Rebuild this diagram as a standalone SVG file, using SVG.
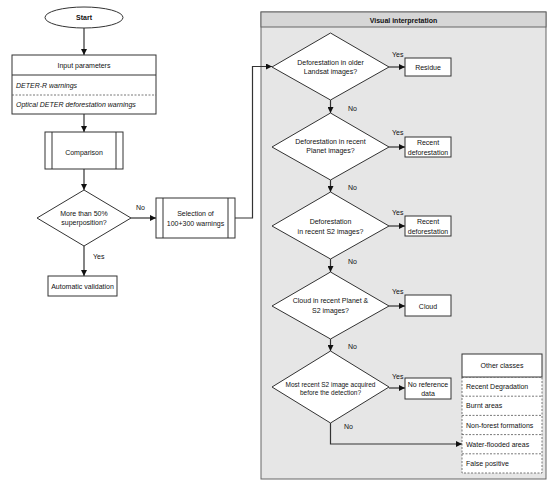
<svg xmlns="http://www.w3.org/2000/svg" width="550" height="485" viewBox="0 0 550 485">
<defs>
<marker id="ah" viewBox="0 0 10 10" refX="10" refY="5" markerWidth="6" markerHeight="6" markerUnits="userSpaceOnUse" orient="auto">
<path d="M0,0 L10,5 L0,10 z" fill="#111"/>
</marker>
<style>
text{font-family:"Liberation Sans",Arial,sans-serif;font-size:7px;fill:#111}
.c{text-anchor:middle}
.b{font-weight:bold}
.i{font-style:italic}
.s{font-size:6.5px}
.shape{fill:#fff;stroke:#333;stroke-width:1}
.ln{fill:none;stroke:#333;stroke-width:1}
.dash{fill:none;stroke:#555;stroke-width:0.8;stroke-dasharray:2,1.5}
.con{fill:none;stroke:#333;stroke-width:1.2;marker-end:url(#ah)}
.con0{fill:none;stroke:#333;stroke-width:1.2}
</style>
</defs>
<rect width="550" height="485" fill="#fff"/>

<g id="panel">
<rect x="261" y="12" width="285" height="467" fill="#e6e6e6" stroke="#666" stroke-width="1"/>
<rect x="261" y="12" width="285" height="15" fill="#d6d6d6" stroke="#666" stroke-width="1"/>
<text x="403.5" y="22.5" class="c b">Visual interpretation</text>
</g>

<g id="connectors">
<line x1="84" y1="28" x2="84" y2="55" class="con"/>
<line x1="84" y1="114" x2="84" y2="132" class="con"/>
<line x1="84" y1="169" x2="84" y2="190" class="con"/>
<line x1="131" y1="218" x2="156" y2="218" class="con"/>
<line x1="84" y1="246" x2="84" y2="276" class="con"/>
<polyline points="235,218 252.5,218 252.5,66.5 272,66.5" class="con"/>
<line x1="389" y1="67" x2="405" y2="67" class="con"/>
<line x1="330.5" y1="100" x2="330.5" y2="113" class="con"/>
<line x1="389" y1="147" x2="405" y2="147" class="con"/>
<line x1="330.5" y1="180" x2="330.5" y2="192" class="con"/>
<line x1="389" y1="226" x2="405" y2="226" class="con"/>
<line x1="330.5" y1="259" x2="330.5" y2="272" class="con"/>
<line x1="389" y1="306" x2="405" y2="306" class="con"/>
<line x1="330.5" y1="339" x2="330.5" y2="351" class="con"/>
<line x1="389" y1="388" x2="405" y2="388" class="con"/>
<polyline points="330.5,423 330.5,444 462,444" class="con"/>
<text x="136" y="210">No</text>
<text x="93" y="259">Yes</text>
<text x="392" y="57">Yes</text>
<text x="348" y="111">No</text>
<text x="392" y="135">Yes</text>
<text x="348" y="190">No</text>
<text x="392" y="215">Yes</text>
<text x="348" y="264">No</text>
<text x="392" y="294">Yes</text>
<text x="348" y="349">No</text>
<text x="392" y="379">Yes</text>
<text x="344" y="429">No</text>
</g>

<g id="start">
<ellipse cx="84" cy="17.5" rx="39" ry="10.5" class="shape"/>
<text x="84" y="20" class="c b">Start</text>
</g>

<g id="input">
<rect x="12" y="55" width="144" height="59" class="shape"/>
<line x1="12" y1="75" x2="156" y2="75" class="ln"/>
<line x1="12" y1="95" x2="156" y2="95" class="dash"/>
<text x="84" y="67.5" class="c">Input parameters</text>
<text x="16" y="87.5" class="i">DETER-R warnings</text>
<text x="16" y="107" class="i">Optical DETER deforestation warnings</text>
</g>

<g id="comparison">
<rect x="45" y="132" width="78" height="37" class="shape"/>
<line x1="52" y1="132" x2="52" y2="169" class="ln"/>
<line x1="116" y1="132" x2="116" y2="169" class="ln"/>
<text x="84" y="155" class="c">Comparison</text>
</g>

<g id="superposition">
<polygon points="84,190 131,218 84,246 37,218" class="shape"/>
<text x="84" y="215.5" class="c">More than 50%</text>
<text x="84" y="224.5" class="c">superposition?</text>
</g>

<g id="selection">
<rect x="156" y="198" width="79" height="40" class="shape"/>
<line x1="163" y1="198" x2="163" y2="238" class="ln"/>
<line x1="228" y1="198" x2="228" y2="238" class="ln"/>
<text x="195.5" y="216" class="c">Selection of</text>
<text x="195.5" y="226" class="c">100+300 warnings</text>
</g>

<g id="automatic">
<rect x="48" y="276" width="69" height="20" class="shape"/>
<text x="82.5" y="288.5" class="c">Automatic validation</text>
</g>

<g id="d1">
<polygon points="330.5,33 389,67 330.5,100 272,67" class="shape"/>
<text x="330.5" y="64.5" class="c">Deforestation in older</text>
<text x="330.5" y="73.5" class="c">Landsat images?</text>
</g>
<g id="residue">
<rect x="405" y="58" width="46" height="18" class="shape"/>
<text x="428" y="69.5" class="c">Residue</text>
</g>

<g id="d2">
<polygon points="330.5,113 389,147 330.5,180 272,147" class="shape"/>
<text x="330.5" y="144" class="c">Deforestation in recent</text>
<text x="330.5" y="153" class="c">Planet images?</text>
</g>
<g id="recent1">
<rect x="405" y="137" width="46" height="20" class="shape"/>
<text x="428" y="145" class="c">Recent</text>
<text x="428" y="154.5" class="c">deforestation</text>
</g>

<g id="d3">
<polygon points="330.5,192 389,226 330.5,259 272,226" class="shape"/>
<text x="330.5" y="224" class="c">Deforestation</text>
<text x="330.5" y="234" class="c">in recent S2 images?</text>
</g>
<g id="recent2">
<rect x="405" y="216" width="46" height="20" class="shape"/>
<text x="428" y="224" class="c">Recent</text>
<text x="428" y="233.5" class="c">deforestation</text>
</g>

<g id="d4">
<polygon points="330.5,272 389,306 330.5,339 272,306" class="shape"/>
<text x="330.5" y="303" class="c">Cloud in recent Planet &amp;</text>
<text x="330.5" y="312.5" class="c">S2 images?</text>
</g>
<g id="cloud">
<rect x="405" y="295" width="46" height="21" class="shape"/>
<text x="428" y="308.5" class="c">Cloud</text>
</g>

<g id="d5">
<polygon points="330.5,351 389,387 330.5,423 272,387" class="shape"/>
<text x="330.5" y="386.5" class="c s">Most recent S2 image acquired</text>
<text x="330.5" y="395" class="c s">before the detection?</text>
</g>
<g id="noref">
<rect x="405" y="378" width="46" height="21" class="shape"/>
<text x="428" y="386.5" class="c">No reference</text>
<text x="428" y="396" class="c">data</text>
</g>

<g id="other">
<rect x="462" y="354" width="80" height="119" fill="#fff" stroke="none"/>
<rect x="462" y="377" width="80" height="96" class="dash"/>
<line x1="462" y1="396.2" x2="542" y2="396.2" class="dash"/>
<line x1="462" y1="415.4" x2="542" y2="415.4" class="dash"/>
<line x1="462" y1="434.6" x2="542" y2="434.6" class="dash"/>
<line x1="462" y1="453.8" x2="542" y2="453.8" class="dash"/>
<rect x="462" y="354" width="80" height="23" class="shape"/>
<text x="502" y="368" class="c">Other classes</text>
<text x="466" y="389">Recent Degradation</text>
<text x="466" y="408.3">Burnt areas</text>
<text x="466" y="427.5">Non-forest formations</text>
<text x="466" y="446.7">Water-flooded areas</text>
<text x="466" y="466">False positive</text>
</g>
</svg>
